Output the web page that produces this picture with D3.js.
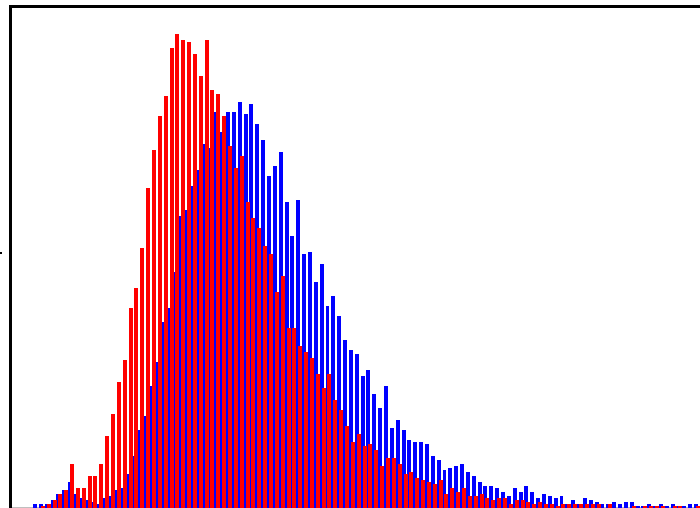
<!DOCTYPE html>
<html>
<head>
<meta charset="utf-8">
<script src="https://cdn.jsdelivr.net/npm/d3@7"></script>
<style>
    body { margin: 0; background: #fff; }
    svg { display: block; }
</style>
</head>
<body>
<div id="chart"></div>
<script>

// bin counts, one entry per bin
let blueCounts = [2, 2, 2, 4, 7, 9, 13, 7, 5, 4, 3, 2, 5, 6, 9, 10, 17, 26, 39, 46,
    61, 73, 93, 100, 118, 146, 149, 161, 169, 182, 180, 198, 188, 198, 198, 203, 197, 202, 192, 184,
    166, 171, 178, 153, 136, 154, 127, 128, 113, 122, 101, 106, 96, 84, 79, 77, 66, 69, 57, 50,
    61, 40, 44, 39, 34, 33, 33, 32, 26, 24, 19, 20, 21, 22, 18, 16, 13, 11, 11, 10,
    8, 6, 10, 8, 11, 8, 5, 7, 6, 5, 6, 2, 4, 2, 5, 4, 3, 2, 2, 3,
    2, 3, 3, 1, 1, 2, 1, 2, 1, 2, 1, 1, 2, 2];

let redCounts = [0, 1, 2, 4, 7, 9, 22, 10, 10, 16, 16, 22, 36, 47, 63, 74, 100, 110, 130, 160,
    179, 196, 206, 230, 237, 234, 233, 227, 216, 234, 209, 207, 196, 181, 170, 176, 153, 145, 140, 131,
    127, 108, 116, 90, 90, 81, 78, 75, 67, 60, 67, 54, 49, 41, 33, 37, 31, 32, 29, 21,
    25, 25, 22, 17, 18, 15, 14, 13, 12, 14, 7, 10, 8, 10, 6, 6, 7, 5, 4, 5,
    5, 2, 4, 4, 3, 2, 3, 2, 2, 1, 2, 2, 2, 2, 2, 2, 2, 0, 2, 0,
    0, 0, 1, 0, 1, 1, 1, 1, 0, 1, 1, 0, 0, 1];

let yMax = 250;

class TwinHistogram {

    constructor(parentElement, series, width, height) {
        this.parentElement = parentElement;
        this.series = series;
        this.width = width;
        this.height = height;

        this.initVis();
    }

    initVis() {
        let vis = this;

        // plot area: left spine at 10.5, top spine at 6.5, baseline just off the bottom
        vis.plotLeft = 10.5;
        vis.plotTop = 6.5;
        vis.baseline = 507.67;
        vis.binStart = 33;
        vis.binStep = 5.85;

        vis.svg = d3.select("#" + vis.parentElement).append("svg")
            .attr("width", vis.width)
            .attr("height", vis.height);

        vis.nBins = d3.max(vis.series, s => s.values.length);

        vis.x = d3.scaleLinear()
            .domain([0, vis.nBins])
            .range([vis.binStart, vis.binStart + vis.nBins * vis.binStep]);

        vis.y = d3.scaleLinear()
            .domain([0, yMax])
            .range([vis.baseline, vis.baseline - 2 * yMax]);

        vis.updateVis();
    }

    updateVis() {
        let vis = this;

        // frame (right side runs off the picture)
        vis.svg.append("path")
            .attr("d", `M${vis.width + 10},${vis.plotTop}H${vis.plotLeft}V${vis.baseline + 1.5}H${vis.width + 10}`)
            .attr("fill", "none")
            .attr("stroke", "#000")
            .attr("stroke-width", 3);

        // tail of a clipped label on the far left
        vis.svg.append("rect")
            .attr("x", 0).attr("y", 252)
            .attr("width", 2).attr("height", 2)
            .attr("fill", "#000");

        let barW = vis.x(0.68) - vis.x(0);

        vis.series.forEach(s => {
            vis.svg.append("g")
                .attr("shape-rendering", "crispEdges")
                .selectAll("rect")
                .data(s.values)
                .join("rect")
                .attr("x", (d, i) => vis.x(i + s.shift))
                .attr("y", d => vis.y(d))
                .attr("width", barW)
                .attr("height", d => vis.height + 1 - vis.y(d))
                .attr("fill", s.color);
        });
    }
}

new TwinHistogram("chart", [
    {values: blueCounts, color: "#0000ff", shift: 0},
    {values: redCounts, color: "#ff0000", shift: 0.34}
], 700, 508);

</script>
</body>
</html>
